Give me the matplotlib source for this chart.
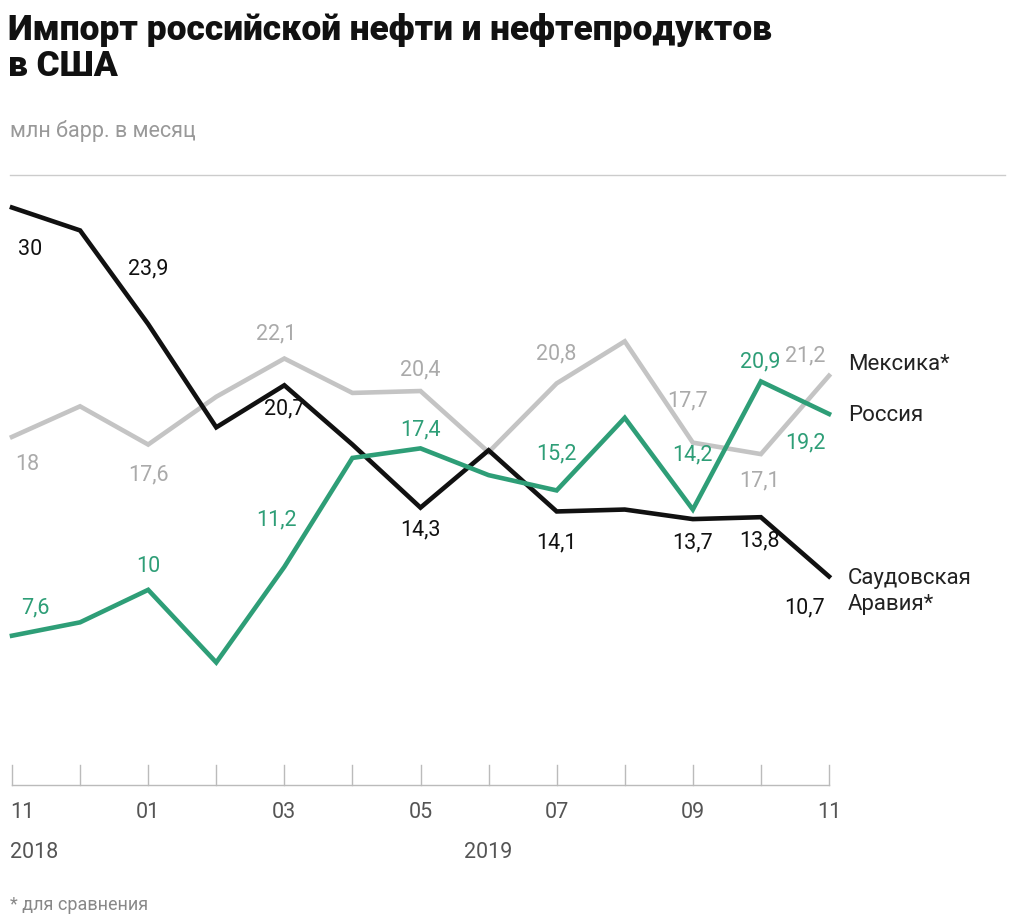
import matplotlib
matplotlib.use("Agg")
import matplotlib.pyplot as plt
import numpy as np

plt.rcParams['font.family'] = ['Roboto', 'DejaVu Sans']

months = ["11", "12", "01", "02", "03", "04", "05", "06", "07", "08", "09", "10", "11"]
saudi = [30, 28.8, 23.9, 18.5, 20.7, 17.6, 14.3, 17.3, 14.1, 14.2, 13.7, 13.8, 10.7]
mexico = [18, 19.6, 17.6, 20.1, 22.1, 20.3, 20.4, 17.2, 20.8, 23.0, 17.7, 17.1, 21.2]
russia = [7.6, 8.3, 10, 6.2, 11.2, 16.9, 17.4, 16.0, 15.2, 19.0, 14.2, 20.9, 19.2]

# labelled points: index -> pixel offset of label from point (dx, dy)
saudi_lab = {0: (18, -42), 2: (0, 55), 4: (0, -24), 6: (0, -22), 8: (0, -31), 10: (0, -24), 11: (-1, -24), 12: (-24, -31)}
mexico_lab = {0: (15, -28), 2: (0, -30), 4: (-8, 25), 6: (0, 21), 8: (0, 29), 10: (-5, 42), 11: (-1, -27), 12: (-24, 20)}
russia_lab = {0: (23, 28), 2: (0, 23), 4: (-8, 47), 6: (0, 18), 8: (0, 36), 10: (0, 55), 11: (-1, 20), 12: (-24, -29)}

GREEN = "#2e9e77"
GRAY = "#c4c4c4"
BLACK = "#111111"

fig = plt.figure(figsize=(10.24, 9.24), dpi=100)
ax = fig.add_axes([12 / 1024, 1 - 781 / 924, 817 / 1024, 606 / 924])
ax.set_xlim(0, 12)
ax.set_ylim(0, 31.7)
ax.axis("off")

x = np.arange(len(months))
for vals, col, labs in [(mexico, GRAY, mexico_lab), (saudi, BLACK, saudi_lab), (russia, GREEN, russia_lab)]:
    ax.plot(x, vals, color=col, lw=3.3, solid_joinstyle="miter", clip_on=False)
    tc = "#aaaaaa" if col == GRAY else col
    for i, (dx, dy) in labs.items():
        ax.annotate(f"{vals[i]:g}".replace(".", ","), (x[i], vals[i]), xytext=(dx, dy),
                    textcoords="offset pixels", ha="center", va="center",
                    fontsize=15.5, color=tc)

# baseline and ticks
for xi in x:
    ax.plot([xi, xi], [-0.2, 0.85], color="#bbbbbb", lw=1, clip_on=False)
ax.plot([0, 12], [-0.2, -0.2], color="#bbbbbb", lw=1, clip_on=False)
for i in range(0, 13, 2):
    ha = "left" if i == 0 else "center"
    ax.annotate(months[i], (x[i], 0), xytext=(-2 if i == 0 else 0, -31), textcoords="offset pixels",
                ha=ha, va="center", fontsize=15.5, color="#555555")
ax.annotate("2018", (0, 0), xytext=(-2, -71), textcoords="offset pixels",
            ha="left", va="center", fontsize=15.5, color="#555555")
ax.annotate("2019", (7, 0), xytext=(0, -71), textcoords="offset pixels",
            ha="center", va="center", fontsize=15.5, color="#555555")

# series names
ax.annotate("Мексика*", (12, mexico[-1]), xytext=(19, 11), textcoords="offset pixels",
            ha="left", va="center", fontsize=16, color="#222222")
ax.annotate("Россия", (12, russia[-1]), xytext=(19, -2), textcoords="offset pixels",
            ha="left", va="center", fontsize=16, color="#222222")
ax.annotate("Саудовская\nАравия*", (12, saudi[-1]), xytext=(19, -15), textcoords="offset pixels",
            ha="left", va="center", fontsize=16, color="#222222", linespacing=1.3)

# top rule
fig.add_artist(plt.Line2D([10 / 1024, 1005 / 1024], [1 - 175 / 924] * 2, color="#cccccc", lw=1))

fig.text(8 / 1024, 1 - 48 / 924, "Импорт российской нефти и нефтепродуктов\nв США",
         fontsize=25.5, fontweight="black", va="center", ha="left", linespacing=1.1, color="#111111")
fig.text(10 / 1024, 1 - 131 / 924, "млн барр. в месяц", fontsize=15.5, color="#999999", va="center")
fig.text(10 / 1024, 1 - 905 / 924, "* для сравнения", fontsize=13, color="#888888", va="center")

fig.savefig("out.png", dpi=100)
